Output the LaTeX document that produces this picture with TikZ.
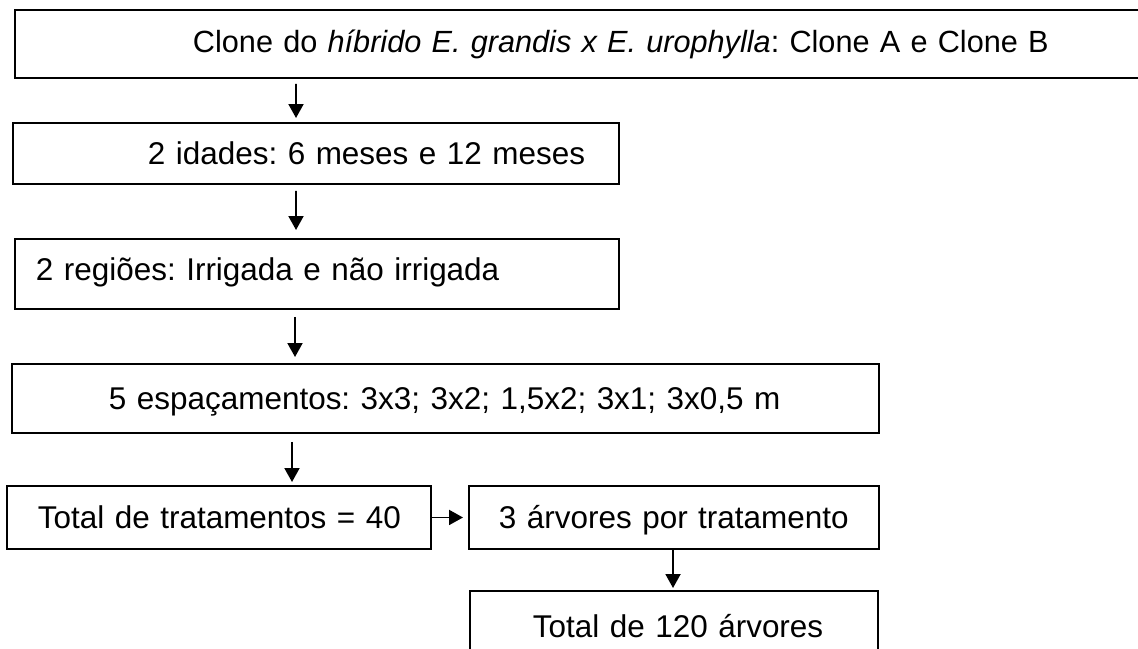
\documentclass[tikz,border=0pt]{standalone}
\usepackage{fontspec}
\setmainfont{Liberation Sans}
\usetikzlibrary{positioning,arrows.meta}
\frenchspacing

\begin{document}
\begin{tikzpicture}[
  every node/.style={font=\fontsize{17.9}{21}\selectfont},
  box/.style={rectangle, draw=black, line width=1.1pt, inner xsep=0pt, inner ysep=0pt,
              align=left, anchor=north west, text height=0.55cm, text depth=0.10cm},
  arr/.style={-{Triangle[width=0.30cm,length=0.28cm]}, line width=1.1pt}
]
  \useasboundingbox (0,0) rectangle (22.76,-12.96);

  \node[box, text width=22.72cm, minimum height=1.36cm, text depth=0.22cm,
        font=\fontsize{17.45}{21}\selectfont] (clone) at (0.28,-0.18)
    {\hspace*{3.56cm}Clone do \textit{híbrido E. grandis x E. urophylla}: Clone A e Clone B};
  \node[box, text width=12.12cm, minimum height=1.22cm] (idades) at (0.24,-2.44)
    {\hspace*{2.70cm}2 idades: 6 meses e 12 meses};
  \node[box, text width=12.08cm, minimum height=1.40cm, text depth=0.30cm] (regioes) at (0.28,-4.76)
    {\hspace*{0.42cm}2 regiões: Irrigada e não irrigada};
  \node[box, text width=17.34cm, minimum height=1.38cm] (espac) at (0.22,-7.26)
    {\hspace*{1.94cm}5 espaçamentos: 3x3; 3x2; 1,5x2; 3x1; 3x0,5 m};
  \node[box, text width=8.48cm, minimum height=1.26cm] (trat) at (0.12,-9.70)
    {\hspace*{0.62cm}Total de tratamentos = 40};
  \node[box, text width=8.20cm, minimum height=1.26cm] (arvores) at (9.36,-9.70)
    {\hspace*{0.60cm}3 árvores por tratamento};
  \node[box, text width=8.16cm, minimum height=1.40cm] (total) at (9.38,-11.80)
    {\hspace*{1.26cm}Total de 120 árvores};

  \draw[arr, shorten <=0.10cm, shorten >=0.08cm] ([xshift=5.64cm]clone.south west) -- ([xshift=5.68cm]idades.north west);
  \draw[arr, shorten <=0.12cm, shorten >=0.16cm] ([xshift=5.68cm]idades.south west) -- ([xshift=5.64cm]regioes.north west);
  \draw[arr, shorten <=0.14cm, shorten >=0.12cm] ([xshift=5.62cm]regioes.south west) -- ([xshift=5.68cm]espac.north west);
  \draw[arr, shorten <=0.16cm, shorten >=0.06cm] ([xshift=5.62cm]espac.south west) -- ([xshift=5.72cm]trat.north west);
  \draw[arr, shorten >=0.10cm] (trat.east) -- (arvores.west);
  \draw[arr, shorten >=0.04cm] ([xshift=4.10cm]arvores.south west) -- ([xshift=4.08cm]total.north west);
\end{tikzpicture}
\end{document}
